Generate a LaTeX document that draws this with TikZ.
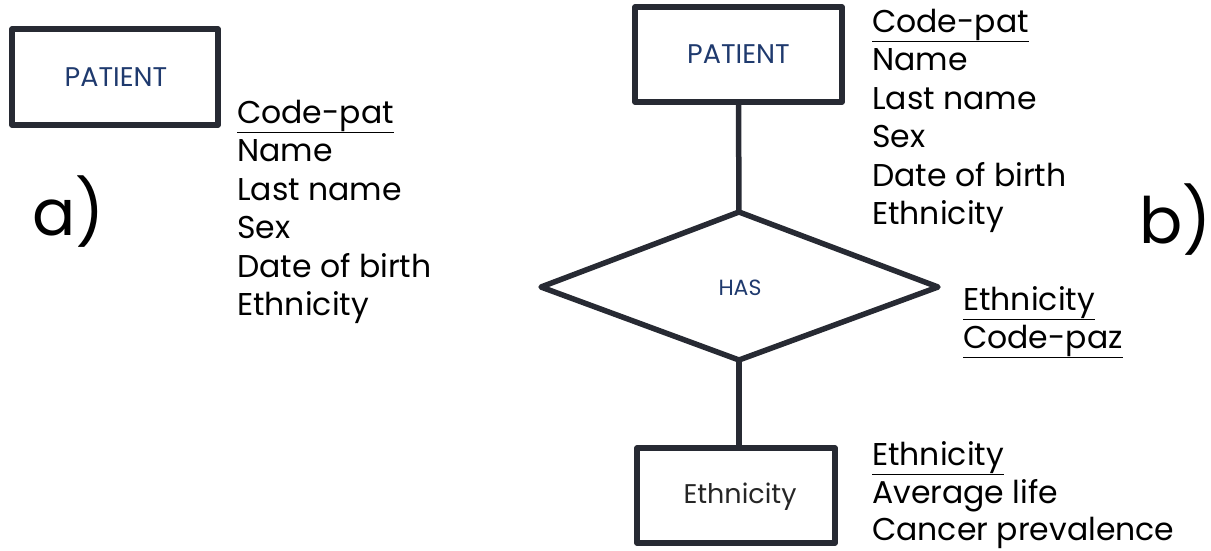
\documentclass[tikz,border=0pt]{standalone}
\usepackage{fontspec}
\setmainfont{Poppins}
\definecolor{edge}{HTML}{272A33}
\definecolor{lblblue}{HTML}{1F3A6E}
\begin{document}
\begin{tikzpicture}[x=1pt,y=-1pt,
  ent/.style={draw=edge,line width=5.5pt,line join=round},
  conn/.style={draw=edge,line width=5.5pt},
  attr/.style={anchor=base west,inner sep=0pt,font=\fontsize{31.5}{36}\selectfont,text=black},
  lbl/.style={inner sep=0pt,font=\fontsize{27}{32}\selectfont},
  big/.style={anchor=base west,inner sep=0pt,font=\fontsize{64}{74}\selectfont,text=black}]
\useasboundingbox (0,0) rectangle (1211,550);
% ---------- a)
\draw[ent] (12,29) rectangle (218,125);
\node[lbl,text=lblblue] (pa) at (116,77) {PATIENT};
\node[attr] (a1) at (237,123) {\underline{Code-pat}};
\node[attr] (a2) at (237,161.5) {Name};
\node[attr] (a3) at (237,200) {Last name};
\node[attr] (a4) at (237,238.5) {Sex};
\node[attr] (a5) at (237,277) {Date of birth};
\node[attr] (a6) at (237,315.5) {Ethnicity};
\node[big] (la) at (32,235) {a)};
% ---------- b)
\node[ent,minimum width=207pt,minimum height=95pt,inner sep=0pt] (pb) at (738.5,54.5) {};
\node[lbl,text=lblblue] (pbl) at (pb.center) {PATIENT};
\coordinate (dt) at (739,212);
\coordinate (dl) at (541,287);
\coordinate (dr) at (938,287);
\coordinate (db) at (739,360);
\draw[ent] (dt) -- (dr) -- (db) -- (dl) -- cycle;
\node[inner sep=0pt,font=\fontsize{22}{26}\selectfont,text=lblblue] (has) at (740,288) {HAS};
\node[ent,minimum width=198pt,minimum height=95pt,inner sep=0pt] (eb) at (736,495.5) {};
\node[lbl,text=black!85] (ebl) at (740,497) {Ethnicity};
\draw[conn] (pb.south) -- (dt);
\draw[conn] (db) -- (db |- eb.north);
\node[attr] (b1) at (872,32) {\underline{Code-pat}};
\node[attr] (b2) at (872,70.5) {Name};
\node[attr] (b3) at (872,109) {Last name};
\node[attr] (b4) at (872,147.5) {Sex};
\node[attr] (b5) at (872,186) {Date of birth};
\node[attr] (b6) at (872,224.5) {Ethnicity};
\node[attr] (h1) at (963,310) {\underline{Ethnicity}};
\node[attr] (h2) at (963,348) {\underline{Code-paz}};
\node[attr] (e1) at (872,465) {\underline{Ethnicity}};
\node[attr] (e2) at (872,503) {Average life};
\node[attr] (e3) at (872,540) {Cancer prevalence};
\node[big] (lb) at (1139,243) {b)};
\end{tikzpicture}
\end{document}
